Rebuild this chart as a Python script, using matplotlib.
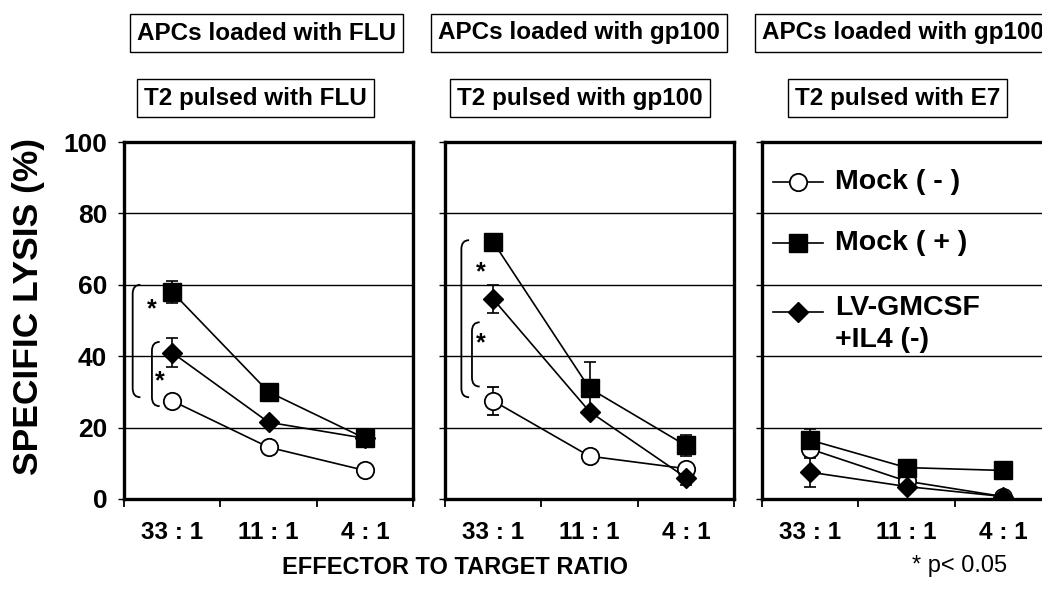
import matplotlib
matplotlib.use("Agg")
import matplotlib.pyplot as plt
from matplotlib.path import Path
from matplotlib.patches import PathPatch

plt.rcParams["font.family"] = ["Liberation Sans", "DejaVu Sans"]

ratios = ["33 : 1", "11 : 1", "4 : 1"]
apc_titles = ["APCs loaded with FLU", "APCs loaded with gp100", "APCs loaded with gp100"]
t2_titles = ["T2 pulsed with FLU", "T2 pulsed with gp100", "T2 pulsed with E7"]

# specific lysis (%) per panel, one value per E:T ratio
mock_neg = [[27.5, 14.5, 8.0], [27.5, 12.0, 8.5], [14.0, 5.0, 0.7]]
mock_neg_err = [[0, 0, 0], [4.0, 0, 0], [2.0, 0, 0]]
mock_pos = [[58.0, 30.0, 17.0], [72.0, 31.0, 15.0], [16.5, 8.8, 8.0]]
mock_pos_err = [[3.0, 0, 0], [0, 7.5, 3.0], [3.0, 0, 0]]
lv_gmcsf = [[41.0, 21.5, 17.0], [56.0, 24.5, 6.0], [7.5, 3.5, 0.7]]
lv_gmcsf_err = [[4.0, 0, 2.0], [4.0, 0, 2.0], [4.0, 0, 0]]

# significance brackets: (x, top, bottom) and star positions
brackets = [
    [(0.09, 60.0, 28.5), (0.29, 44.0, 26.0)],
    [(0.17, 72.5, 28.5), (0.28, 49.5, 31.5)],
    [],
]
stars = [
    [(0.29, 53.0), (0.37, 33.0)],
    [(0.37, 63.5), (0.37, 43.5)],
    [],
]

W, H = 1042, 603
fig = plt.figure(figsize=(W / 100, H / 100), dpi=100)

lefts = [124, 445, 762]
pw = 289
bottom, top = 499, 142

styles = [
    dict(marker="o", ms=12.5, mfc="white", mec="black", mew=1.3),
    dict(marker="s", ms=13, mfc="black", mec="black"),
    dict(marker="D", ms=10.5, mfc="black", mec="black"),
]


def bracket(ax, x, y0, y1, w=0.08, r=2.5):
    verts = [(x + w, y0), (x, y0), (x, y0 - r), (x, y1 + r), (x, y1), (x + w, y1)]
    codes = [Path.MOVETO, Path.CURVE3, Path.CURVE3, Path.LINETO, Path.CURVE3, Path.CURVE3]
    ax.add_patch(PathPatch(Path(verts, codes), fill=False, lw=1.3, ec="black", zorder=4))


xs = [0.5, 1.5, 2.5]
for i in range(3):
    ax = fig.add_axes([lefts[i] / W, 1 - bottom / H, pw / W, (bottom - top) / H])
    ax.set_xlim(0, 3)
    ax.set_ylim(0, 100)
    for y in [20, 40, 60, 80]:
        ax.axhline(y, color="black", lw=1.0, zorder=1)
    for vals, errs, st in zip([mock_neg[i], mock_pos[i], lv_gmcsf[i]],
                              [mock_neg_err[i], mock_pos_err[i], lv_gmcsf_err[i]], styles):
        ax.errorbar(xs, vals, yerr=errs, color="black", lw=1.2, elinewidth=1.2,
                    capsize=4, capthick=1.2, zorder=3, **st)
    for b in brackets[i]:
        bracket(ax, *b)
    for sx, sy in stars[i]:
        ax.text(sx, sy, "*", fontsize=18, fontweight="bold", ha="center", va="center")

    for sp in ax.spines.values():
        sp.set_linewidth(2.4)
    ax.set_xticks([0, 1, 2, 3], [])
    ax.set_xticks(xs, ratios, minor=True)
    ax.tick_params(axis="x", which="major", direction="out", length=6, width=1.3)
    ax.tick_params(axis="x", which="minor", length=0, pad=16, labelsize=17.5)
    for lab in ax.get_xticklabels(minor=True):
        lab.set_fontweight("bold")
    ax.set_yticks([0, 20, 40, 60, 80, 100])
    ax.tick_params(axis="y", direction="out", length=4, width=1.0, pad=8, labelsize=19)
    if i == 0:
        for lab in ax.get_yticklabels():
            lab.set_fontweight("bold")
        ax.set_ylabel("SPECIFIC LYSIS (%)", fontsize=25.5, fontweight="bold")
        ax.yaxis.set_label_coords(-0.272, 0.54)
    else:
        ax.set_yticklabels([])

    if i == 2:
        legend_rows = [("Mock ( - )", 88.8, 88.8), ("Mock ( + )", 71.7, 71.7),
                       ("LV-GMCSF\n+IL4 (-)", 52.5, 49.0)]
        for (label, ym, yt), st in zip(legend_rows, styles):
            ax.plot([0.115, 0.63], [ym, ym], color="black", lw=1.2, zorder=5)
            ax.plot([0.375], [ym], linestyle="none", zorder=6, **st)
            ax.text(0.76, yt, label, fontsize=20.5, fontweight="bold", ha="left", va="center",
                    linespacing=1.3)

box = dict(boxstyle="square,pad=0.3", fc="white", ec="black", lw=1.0)
apc_x = [266.5, 579, 762]
apc_ha = ["center", "center", "left"]
t2_x = [255.5, 580, 897.5]
for i in range(3):
    fig.text(apc_x[i] / W, 1 - 33 / H, apc_titles[i], fontsize=17.5, fontweight="bold",
             ha=apc_ha[i], va="center", bbox=box)
    fig.text(t2_x[i] / W, 1 - 98 / H, t2_titles[i], fontsize=17.5, fontweight="bold",
             ha="center", va="center", bbox=box)

fig.text(455 / W, 1 - 567 / H, "EFFECTOR TO TARGET RATIO", fontsize=17, fontweight="bold",
         ha="center", va="center")
fig.text(960 / W, 1 - 566 / H, "* p< 0.05", fontsize=17, ha="center", va="center")

fig.savefig("out.png", dpi=100)
